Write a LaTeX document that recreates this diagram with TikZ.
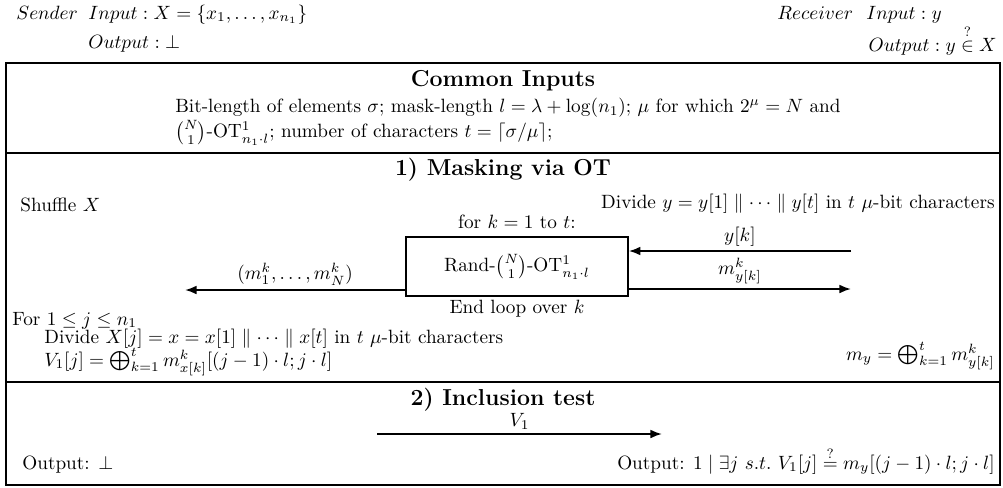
\documentclass[tikz,border=0pt]{standalone}
\usepackage{amsmath,amssymb}
\usetikzlibrary{arrows.meta}
\tikzset{
  frame/.style={line width=1pt},
  msg/.style={line width=1pt,-{Latex[length=6pt,width=4.6pt]}},
  title/.style={font=\large\bfseries,inner sep=0pt},
  txt/.style={inner sep=0pt},
  otbox/.style={draw,line width=0.9pt,minimum width=115.4pt,minimum height=30.7pt,inner sep=0pt}
}
\begin{document}
\begin{tikzpicture}[x=0.52pt,y=-0.52pt]
\useasboundingbox (0,0) rectangle (1003,487);
% header
\node[txt,anchor=base west] (sender) at (16,19) {$Sender$};
\node[txt,anchor=base west] (sin) at (88,19) {$Input: X=\{x_1,\ldots,x_{n_1}\}$};
\node[txt,anchor=base west] (sout) at (88,48) {$Output:\bot$};
\node[txt,anchor=base west] (recv) at (777,19) {$Receiver$};
\node[txt,anchor=base west] (rin) at (866,19) {$Input: y$};
\node[txt,anchor=base east] (rout) at (997,51) {$Output: y\overset{?}{\in}X$};
% frame
\draw[frame] (6,63) rectangle (1000,485);
\draw[frame] (6,153) -- (1000,153);
\draw[frame] (6,382) -- (1000,382);
% common inputs
\node[title,anchor=base] (t0) at (503,86) {Common Inputs};
\node[txt,align=left,anchor=north] (common) at (508,98) {Bit-length of elements $\sigma$; mask-length $l=\lambda+\log(n_1)$; $\mu$ for which $2^\mu=N$ and\\[1pt] $\binom{N}{1}$-OT$^1_{n_1\cdot l}$; number of characters $t=\lceil\sigma/\mu\rceil$;};
% masking
\node[title,anchor=base] (t1) at (503,175) {1) Masking via OT};
\node[txt,anchor=base west] (shuffle) at (20,211) {Shuffle $X$};
\node[txt,anchor=base east] (divy) at (995,208) {Divide $y=y[1]\parallel\cdots\parallel y[t]$ in $t$ $\mu$-bit characters};
\node[txt,anchor=base] (fork) at (517,228) {for $k=1$ to $t$:};
\node[otbox] (ot) at (517,266.5) {Rand-$\binom{N}{1}$-OT$^1_{n_1\cdot l}$};
\node[txt,anchor=base] (endloop) at (517,313) {End loop over $k$};
\coordinate (ykin) at (851,251);
\coordinate (mkout) at (851,289);
\coordinate (mall) at (185,290);
\draw[msg] (ykin) -- node[above=1pt,inner sep=1pt] {$y[k]$} (ot.east |- ykin);
\draw[msg] (ot.east |- mkout) -- node[above=1pt,inner sep=1pt] {$m^k_{y[k]}$} (mkout);
\draw[msg] (ot.west |- mall) -- node[above=1pt,inner sep=1pt] {$(m^k_1,\ldots,m^k_N)$} (mall);
\node[txt,anchor=base west] (forj) at (12,325) {For $1\le j\le n_1$};
\node[txt,anchor=base west] (divx) at (44,343) {Divide $X[j]=x=x[1]\parallel\cdots\parallel x[t]$ in $t$ $\mu$-bit characters};
\node[txt,anchor=base west] (vone) at (44,366) {$V_1[j]=\bigoplus_{k=1}^t m^k_{x[k]}[(j-1)\cdot l;j\cdot l]$};
\node[txt,anchor=base east] (my) at (995,360) {$m_y=\bigoplus_{k=1}^t m^k_{y[k]}$};
% inclusion test
\node[title,anchor=base] (t2) at (503,405) {2) Inclusion test};
\coordinate (vstart) at (377,434);
\coordinate (vend) at (662,434);
\draw[msg] (vstart) -- node[above=1pt,inner sep=1pt] {$V_1$} (vend);
\node[txt,anchor=base west] (sout2) at (22,469) {Output: $\bot$};
\node[txt,anchor=base east] (rout2) at (995,469) {Output: $1\mid\exists j\ s.t.\ V_1[j]\stackrel{?}{=}m_y[(j-1)\cdot l;j\cdot l]$};
\end{tikzpicture}
\end{document}
